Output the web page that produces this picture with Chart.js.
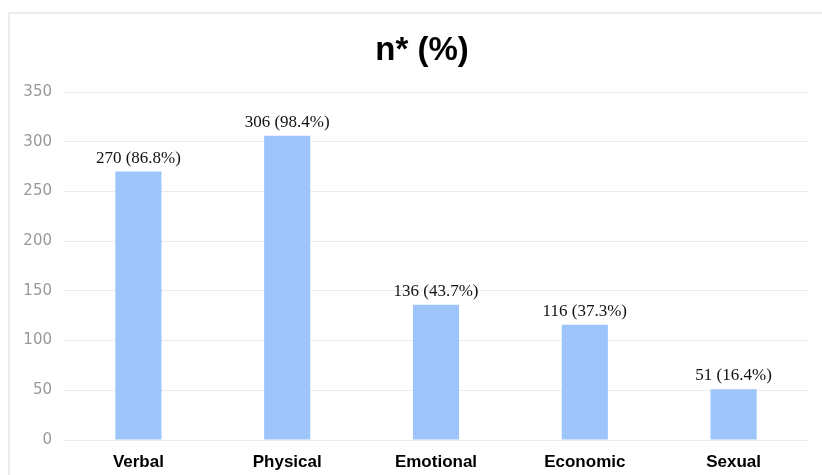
<!DOCTYPE html>
<html>
<head>
<meta charset="utf-8">
<script src="https://cdn.jsdelivr.net/npm/chart.js@4/dist/chart.umd.min.js"></script>
<style>
  html, body { margin: 0; padding: 0; background: #fff; }
  #wrap { position: relative; width: 822px; height: 475px; overflow: hidden; }
  #frame { position: absolute; left: 8px; top: 12px; right: -4px; bottom: -4px;
           border-top: 2px solid #ececec; border-left: 2px solid #ececec; }
  canvas { position: absolute; left: 0; top: 0; }
</style>
</head>
<body>
<div id="wrap">
  <div id="frame"></div>
  <canvas id="c" width="822" height="475"></canvas>
</div>
<script>
// Abuse types and counts
const categories = ['Verbal', 'Physical', 'Emotional', 'Economic', 'Sexual'];
const counts = [270, 306, 136, 116, 51];
const percents = ['86.8%', '98.4%', '43.7%', '37.3%', '16.4%'];
const yTicks = [0, 50, 100, 150, 200, 250, 300, 350];
const titleText = 'n* (%)';

// Writes "n (p%)" above each bar
const valueLabels = {
  id: 'valueLabels',
  afterDatasetsDraw(chart) {
    const ctx = chart.ctx;
    const meta = chart.getDatasetMeta(0);
    ctx.save();
    ctx.font = '17px "Liberation Serif", "Times New Roman", serif';
    ctx.fillStyle = '#111';
    ctx.textAlign = 'center';
    ctx.textBaseline = 'alphabetic';
    meta.data.forEach((bar, i) => {
      ctx.fillText(counts[i] + ' (' + percents[i] + ')', bar.x, bar.y - 9);
    });
    ctx.restore();
  }
};

// Heading, slightly left of the plot centre
const heading = {
  id: 'heading',
  afterDraw(chart) {
    const ctx = chart.ctx;
    ctx.save();
    ctx.font = 'bold 33px "Liberation Sans", Arial, sans-serif';
    ctx.fillStyle = '#000';
    ctx.textAlign = 'center';
    ctx.textBaseline = 'middle';
    ctx.fillText(titleText, 422, 51);
    ctx.restore();
  }
};

new Chart(document.getElementById('c'), {
  type: 'bar',
  data: {
    labels: categories,
    datasets: [{
      data: counts,
      backgroundColor: '#9ec4fc',
      borderWidth: 0,
      categoryPercentage: 1,
      barPercentage: 0.31
    }]
  },
  options: {
    responsive: false,
    animation: false,
    layout: { padding: { left: 10, right: 14, top: 92, bottom: 0 } },
    plugins: {
      legend: { display: false },
      tooltip: { enabled: false },
      title: { display: false }
    },
    scales: {
      x: {
        grid: { display: false, drawTicks: false },
        border: { display: false },
        ticks: {
          color: '#000',
          padding: 12,
          font: { family: '"Liberation Sans", Arial, sans-serif', size: 17, weight: 'bold' }
        },
        afterFit(scale) { scale.height = 35; }
      },
      y: {
        min: 0,
        max: 350,
        afterBuildTicks(scale) { scale.ticks = yTicks.map(v => ({ value: v })); },
        grid: { color: '#ececec', lineWidth: 1, drawTicks: false },
        border: { display: false },
        ticks: {
          color: '#999',
          padding: 12,
          font: { family: '"DejaVu Sans", sans-serif', size: 15 }
        },
        afterFit(scale) { scale.width = 54; }
      }
    }
  },
  plugins: [valueLabels, heading]
});
</script>
</body>
</html>
